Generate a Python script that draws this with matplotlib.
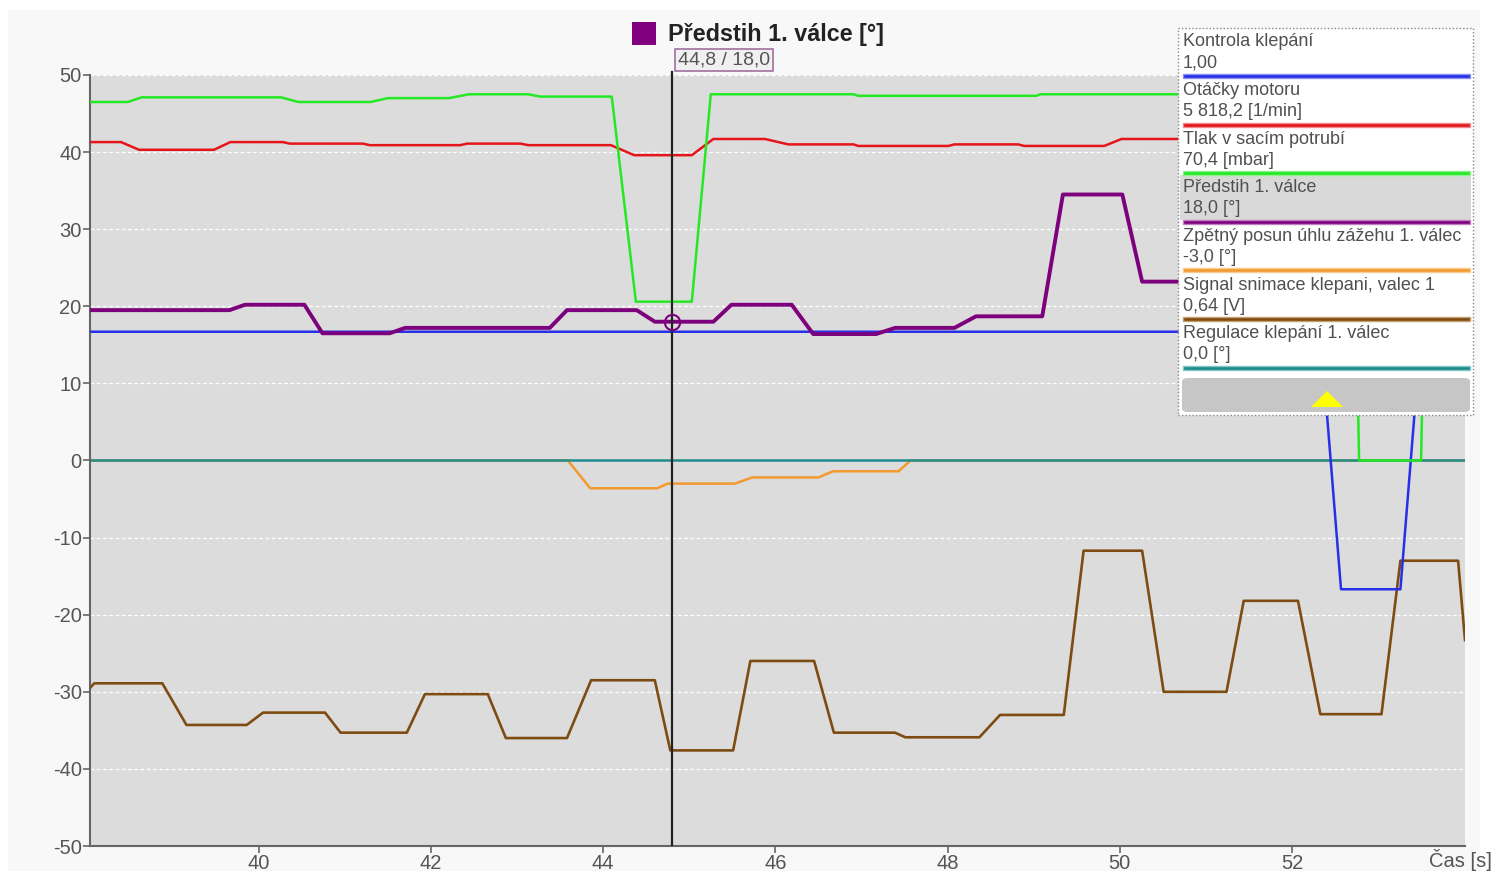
import matplotlib
matplotlib.use("Agg")
import matplotlib.pyplot as plt
from matplotlib.patches import Rectangle, FancyBboxPatch, Polygon
import numpy as np

# ---------------- data ----------------
# time axis [s]
green_t = [38.04, 38.48, 38.64, 40.26, 40.46, 41.30, 41.50, 42.21, 42.44, 43.13, 43.27,
           44.10, 44.38, 45.03, 45.25, 46.91, 46.96, 49.03, 49.08, 52.70, 52.78, 53.50, 53.58, 54.01]
green_v = [46.5, 46.5, 47.1, 47.1, 46.5, 46.5, 47.0, 47.0, 47.5, 47.5, 47.2,
           47.2, 20.6, 20.6, 47.5, 47.5, 47.3, 47.3, 47.5, 47.5, 0.0, 0.0, 47.5, 47.5]

red_t = [38.04, 38.40, 38.61, 39.48, 39.67, 40.28, 40.36, 41.21, 41.29, 42.34, 42.42, 43.04,
         43.13, 44.09, 44.36, 45.03, 45.28, 45.88, 46.15, 46.91, 46.96, 48.01, 48.08, 48.82,
         48.89, 49.82, 50.02, 54.01]
red_v = [41.3, 41.3, 40.3, 40.3, 41.3, 41.3, 41.1, 41.1, 40.9, 40.9, 41.1, 41.1,
         40.9, 40.9, 39.6, 39.6, 41.7, 41.7, 41.0, 41.0, 40.8, 40.8, 41.0, 41.0,
         40.8, 40.8, 41.7, 41.7]

blue_t = [38.04, 52.33, 52.57, 53.26, 53.50, 54.01]
blue_v = [16.7, 16.7, -16.7, -16.7, 16.7, 16.7]

purple_t = [38.04, 39.66, 39.84, 40.53, 40.74, 41.52, 41.70, 43.38, 43.58, 44.39, 44.60,
            45.28, 45.49, 46.19, 46.44, 47.17, 47.39, 48.08, 48.33, 49.10, 49.34, 50.03,
            50.26, 54.01]
purple_v = [19.5, 19.5, 20.2, 20.2, 16.5, 16.5, 17.2, 17.2, 19.5, 19.5, 18.0,
            18.0, 20.2, 20.2, 16.4, 16.4, 17.2, 17.2, 18.7, 18.7, 34.5, 34.5,
            23.2, 23.2]

orange_t = [38.04, 43.59, 43.85, 44.63, 44.75, 45.53, 45.73, 46.50, 46.67, 47.43, 47.57, 54.01]
orange_v = [0.0, 0.0, -3.6, -3.6, -3.0, -3.0, -2.2, -2.2, -1.4, -1.4, 0.0, 0.0]

brown_t = [38.04, 38.09, 38.88, 39.16, 39.86, 40.05, 40.77, 40.95, 41.72, 41.93, 42.66, 42.87,
           43.58, 43.86, 44.60, 44.78, 45.51, 45.71, 46.45, 46.68, 47.39, 47.51, 48.37, 48.61,
           49.35, 49.58, 50.26, 50.51, 51.24, 51.44, 52.07, 52.33, 53.04, 53.26, 53.93, 54.01]
brown_v = [-29.5, -28.9, -28.9, -34.3, -34.3, -32.7, -32.7, -35.3, -35.3, -30.3, -30.3, -36.0,
           -36.0, -28.5, -28.5, -37.6, -37.6, -26.0, -26.0, -35.3, -35.3, -35.9, -35.9, -33.0,
           -33.0, -11.7, -11.7, -30.0, -30.0, -18.2, -18.2, -32.9, -32.9, -13.0, -13.0, -23.3]

teal_t = [38.04, 54.01]
teal_v = [0.0, 0.0]

cursor_t = 44.8

y_ticks = [50, 40, 30, 20, 10, 0, -10, -20, -30, -40, -50]
x_ticks = [40, 42, 44, 46, 48, 50, 52]
x_label = "Čas [s]"

title = "Předstih 1. válce [°]"
legend_names = ["Kontrola klepání", "Otáčky motoru", "Tlak v sacím potrubí", "Předstih 1. válce",
                "Zpětný posun úhlu zážehu 1. válec", "Signal snimace klepani, valec 1",
                "Regulace klepání 1. válec"]
legend_values = ["1,00", "5 818,2 [1/min]", "70,4 [mbar]", "18,0 [°]", "-3,0 [°]", "0,64 [V]", "0,0 [°]"]

# ---------------- style ----------------
C_BLUE = "#2630e6"
C_RED = "#e4161c"
C_GREEN = "#25e825"
C_PURPLE = "#7d007d"
C_ORANGE = "#f39a2e"
C_BROWN = "#7e4c12"
C_TEAL = "#1f8b8b"
legend_colors = [C_BLUE, C_RED, C_GREEN, C_PURPLE, C_ORANGE, C_BROWN, C_TEAL]
legend_light = ["#8a8ff0", "#f08a8c", "#8cf08c", "#c080c0", "#f8cc90", "#c8a070", "#80c8c8"]

plt.rcParams["font.family"] = ["Liberation Sans", "DejaVu Sans"]

W, H = 1492, 871
fig = plt.figure(figsize=(W / 100, H / 100), dpi=100)
fig.patch.set_facecolor("white")


def fr(x0, y0, x1, y1):
    """Figure-fraction rectangle spec from pixel box (y from top)."""
    return (x0 / W, 1 - y1 / H), (x1 - x0) / W, (y1 - y0) / H


def fp(x, y):
    return x / W, 1 - y / H


# page background
xy, w, h = fr(8, 10, 1480, 871)
fig.add_artist(Rectangle(xy, w, h, transform=fig.transFigure, facecolor="#f8f8f8",
                         edgecolor="none", zorder=-5))

ax = fig.add_axes([90 / W, 1 - 846 / H, (1465 - 90) / W, (846 - 75) / H])
ax.set_facecolor("#dcdcdc")
ax.set_xlim(38.04, 54.01)
ax.set_ylim(-50, 50)

ax.set_yticks(y_ticks)
ax.set_yticklabels([str(v) for v in y_ticks])
ax.set_xticks(x_ticks)
ax.set_xticklabels([str(v) for v in x_ticks])
ax.tick_params(axis="both", colors="#666666", labelcolor="#555555", length=5, width=1.2,
               labelsize=14.5, pad=1)
for s in ("top", "right"):
    ax.spines[s].set_visible(False)
for s in ("left", "bottom"):
    ax.spines[s].set_color("#666666")
    ax.spines[s].set_linewidth(1.5)
ax.yaxis.grid(True, color="white", linestyle=(0, (3, 2)), linewidth=0.9)
ax.set_axisbelow(True)

ax.plot(orange_t, orange_v, color=C_ORANGE, lw=1.8, zorder=2)
ax.plot(teal_t, teal_v, color=C_TEAL, lw=1.8, zorder=2.5)
ax.plot(brown_t, brown_v, color=C_BROWN, lw=1.9, zorder=3)
ax.plot(blue_t, blue_v, color=C_BLUE, lw=1.8, zorder=4)
ax.plot(red_t, red_v, color=C_RED, lw=1.8, zorder=4)
ax.plot(green_t, green_v, color=C_GREEN, lw=1.8, zorder=5)
ax.plot(purple_t, purple_v, color=C_PURPLE, lw=2.8, zorder=6)

# cursor
cursor_v = float(np.interp(cursor_t, purple_t, purple_v))
ax.axvline(cursor_t, color="#222222", lw=1.6, zorder=7)
ax.plot([cursor_t], [cursor_v], marker="o", ms=11, mfc="none", mec=C_PURPLE, mew=1.5, zorder=8)
cx = ax.transData.transform((cursor_t, 0))[0]
fig.add_artist(plt.Line2D([cx / W, cx / W], [1 - 72 / H, 1 - 75 / H], transform=fig.transFigure,
                          color="#222222", lw=1.6, zorder=1))

fig.text(1460 / W, 1 - 860 / H, x_label, ha="center", va="center", fontsize=14.5, color="#555555")

# title with colour square
xy, w, h = fr(632, 22, 656, 45)
fig.add_artist(Rectangle(xy, w, h, transform=fig.transFigure, facecolor="#800080",
                         edgecolor="none", zorder=2))
fig.text(*fp(668, 34), title, ha="left", va="center", fontsize=16.8, fontweight="bold",
         color="#222222")
val_txt = f"{cursor_t:.1f} / {cursor_v:.1f}".replace(".", ",")
fig.text(*fp(724, 60), val_txt, ha="center", va="center", fontsize=14, color="#555555",
         bbox=dict(boxstyle="square,pad=0.15", facecolor="#f0f0f0", edgecolor="#a070a0", lw=1.2))

# value panel
xy, w, h = fr(1178, 28, 1473, 415)
fig.add_artist(Rectangle(xy, w, h, transform=fig.transFigure, facecolor="white",
                         edgecolor="#888888", lw=1.0, linestyle=(0, (1, 1.5)), zorder=2))
step = 48.6
for i, (name, val) in enumerate(zip(legend_names, legend_values)):
    top = 29 + step * i
    if i == 3:
        xy, w, h = fr(1180, top + 0.5, 1471, top + step - 3)
        fig.add_artist(Rectangle(xy, w, h, transform=fig.transFigure, facecolor="#d9d9d9",
                                 edgecolor="none", zorder=3))
    fig.text(*fp(1183, top + 13), name, ha="left", va="center", fontsize=13, color="#505050",
             zorder=5)
    fig.text(*fp(1183, top + 34), val, ha="left", va="center", fontsize=13, color="#505050",
             zorder=5)
    ly = top + 47
    xy, w, h = fr(1183, ly - 2.0, 1470, ly + 2.0)
    fig.add_artist(Rectangle(xy, w, h, transform=fig.transFigure, facecolor=legend_colors[i],
                             edgecolor=legend_light[i], lw=1.0, zorder=4))

btn = FancyBboxPatch(fp(1182, 412), (1470 - 1182) / W, (412 - 378) / H,
                     boxstyle="round,pad=0,rounding_size=0.004", transform=fig.transFigure,
                     facecolor="#c6c6c6", edgecolor="none", zorder=4)
fig.add_artist(btn)
fig.add_artist(Polygon([fp(1311, 407), fp(1343, 407), fp(1327, 391)], closed=True,
                       transform=fig.transFigure, facecolor="#ffff00", edgecolor="none", zorder=5))

fig.savefig("out.png", dpi=100)
